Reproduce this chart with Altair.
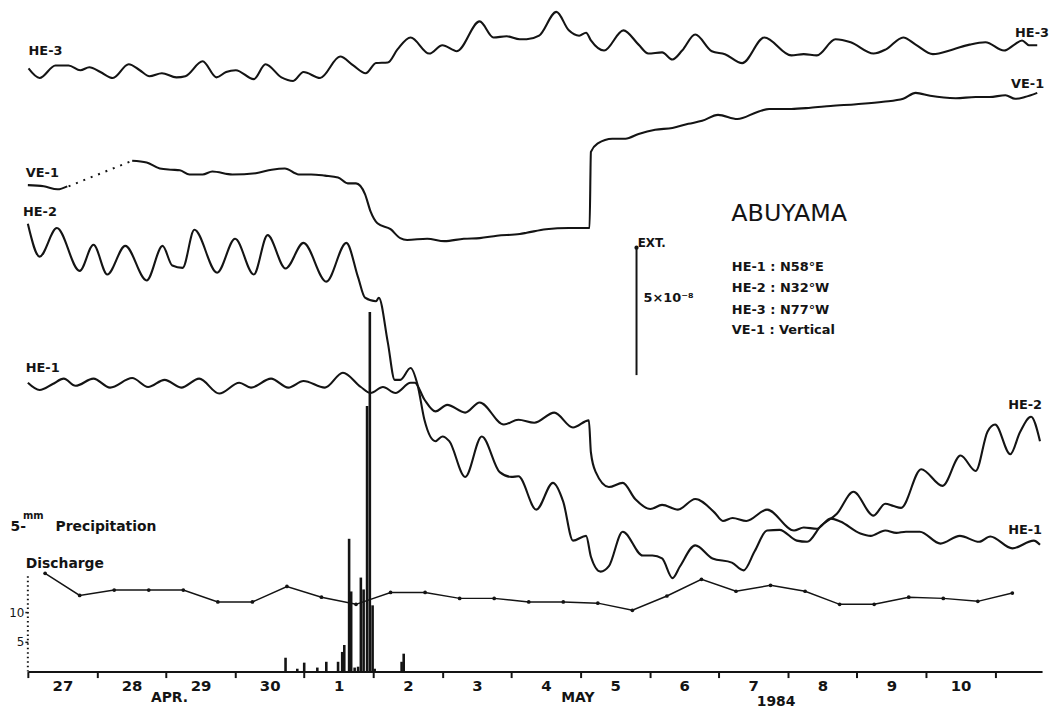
import json
import altair as alt
import pandas as pd

INK = "#141414"
FONT = "DejaVu Sans"

# ---- axis ranges (days since 27 Apr 1984 00:00; vertical in discharge units) ----
X_MAX = 14.68
Y_MAX = 111.0
DAY_LABELS = ["27", "28", "29", "30", "1", "2", "3", "4", "5", "6", "7", "8", "9", "10"]

# ---- strain records (relative) ----
HE3_T = [0.01, 0.17, 0.40, 0.59, 0.76, 0.89, 1.05, 1.23, 1.46, 1.62, 1.76, 1.94, 2.15, 2.28, 2.53, 2.73,
         2.87, 3.01, 3.27, 3.44, 3.67, 3.84, 3.99, 4.23, 4.52, 4.71, 4.89, 5.04, 5.21, 5.35, 5.54, 5.81,
         6.00, 6.21, 6.54, 6.74, 6.93, 7.12, 7.22, 7.40, 7.65, 7.83, 7.98, 8.08, 8.15, 8.34, 8.62, 8.84,
         8.98, 9.18, 9.33, 9.47, 9.66, 9.90, 10.09, 10.34, 10.66, 11.05, 11.23, 11.42, 11.69, 11.91,
         12.24, 12.42, 12.67, 12.85, 13.10, 13.39, 13.63, 13.86, 14.13, 14.28, 14.39, 14.49, 14.61]
HE3_V = [101.3, 99.7, 101.8, 101.8, 101.0, 101.5, 100.7, 99.7, 102.0, 101.0, 100.0, 100.5, 99.8, 100.0,
         102.5, 99.8, 100.7, 101.0, 99.5, 102.0, 99.8, 99.2, 100.7, 99.7, 103.3, 101.8, 100.5, 102.2,
         102.3, 104.5, 106.5, 103.8, 105.2, 104.2, 109.2, 106.5, 106.7, 106.2, 106.2, 106.8, 110.8, 107.7,
         106.8, 107.3, 106.0, 104.3, 107.7, 105.3, 103.8, 104.0, 102.8, 104.3, 107.0, 104.2, 103.7, 102.2,
         106.5, 103.5, 103.7, 103.5, 106.2, 105.7, 103.8, 104.5, 106.5, 105.3, 103.7, 104.5, 105.3, 105.7,
         104.3, 105.3, 106.0, 105.2, 105.2]

VE1_START_T = [0.00, 0.23, 0.43, 0.57]
VE1_START_V = [81.7, 81.5, 81.0, 81.5]
VE1_GAP_T = [0.59, 1.51]
VE1_GAP_V = [81.5, 85.8]
VE1_T = [1.51, 1.72, 1.91, 2.08, 2.20, 2.34, 2.53, 2.67, 2.96, 3.30, 3.53, 3.72, 3.92, 4.10, 4.30, 4.49,
         4.63, 4.75, 4.88, 4.96, 5.06, 5.25, 5.39, 5.49, 5.78, 6.03, 6.31, 6.54, 6.79, 7.12, 7.22, 7.50,
         7.83, 8.11, 8.13, 8.15, 8.25, 8.46, 8.65, 8.84, 9.08, 9.33, 9.56, 9.76, 9.99, 10.27, 10.56,
         10.73, 11.05, 11.33, 11.62, 11.99, 12.38, 12.67, 12.85, 13.06, 13.43, 13.72, 13.92, 14.15,
         14.29, 14.43, 14.61]
VE1_V = [85.8, 85.5, 84.5, 84.3, 84.2, 83.5, 83.5, 84.0, 83.5, 83.7, 84.3, 84.5, 83.5, 83.5, 83.3, 83.0,
         82.0, 82.0, 80.2, 77.3, 75.3, 74.3, 72.8, 72.5, 72.7, 72.3, 72.7, 72.8, 73.2, 73.5, 73.7, 74.3,
         74.5, 74.5, 74.5, 87.3, 88.7, 89.5, 89.5, 90.3, 91.0, 91.3, 92.0, 92.5, 93.5, 92.8, 94.0, 94.5,
         94.5, 94.7, 95.0, 95.3, 95.7, 96.2, 97.2, 96.7, 96.3, 96.5, 96.5, 96.8, 96.2, 96.5, 97.2]

HE2_T = [0.00, 0.17, 0.42, 0.75, 0.95, 1.15, 1.41, 1.72, 1.95, 2.09, 2.24, 2.41, 2.74, 3.00, 3.27, 3.47,
         3.73, 3.99, 4.32, 4.61, 4.78, 4.88, 5.04, 5.08, 5.21, 5.31, 5.39, 5.54, 5.64, 5.74, 5.90, 6.00,
         6.10, 6.33, 6.57, 6.83, 7.00, 7.10, 7.36, 7.60, 7.75, 7.89, 8.08, 8.15, 8.29, 8.41, 8.61, 8.90,
         9.04, 9.18, 9.33, 9.44, 9.66, 9.91, 10.19, 10.36, 10.52, 10.70, 10.88, 11.13, 11.28, 11.48,
         11.71, 11.95, 12.24, 12.41, 12.53, 12.64, 12.93, 13.24, 13.50, 13.72, 13.89, 14.00, 14.22,
         14.36, 14.52, 14.65]
HE2_V = [75.2, 69.7, 74.5, 67.3, 71.7, 66.7, 71.5, 65.7, 71.5, 68.2, 67.8, 74.2, 67.0, 72.7, 66.7, 73.3,
         67.7, 72.0, 65.5, 72.0, 66.2, 62.8, 62.2, 62.8, 55.3, 49.0, 49.0, 51.0, 48.2, 42.3, 38.7, 39.5,
         38.7, 32.7, 39.5, 33.5, 32.7, 32.8, 27.2, 31.7, 28.5, 22.0, 22.8, 19.3, 16.8, 17.7, 23.5, 19.5,
         19.5, 19.0, 15.7, 17.7, 21.2, 19.0, 18.3, 17.0, 20.2, 23.7, 23.8, 22.0, 21.8, 24.5, 26.5, 30.2,
         26.2, 28.2, 27.8, 27.5, 34.0, 31.2, 36.3, 33.7, 40.3, 41.5, 36.5, 40.2, 42.8, 38.7]

HE1_T = [0.00, 0.17, 0.36, 0.52, 0.69, 0.95, 1.19, 1.51, 1.74, 1.98, 2.22, 2.48, 2.77, 3.06, 3.23, 3.52,
         3.77, 3.99, 4.30, 4.56, 4.82, 4.96, 5.14, 5.32, 5.54, 5.60, 5.74, 5.90, 6.07, 6.33, 6.54, 6.89,
         7.10, 7.33, 7.62, 7.89, 8.12, 8.15, 8.22, 8.41, 8.61, 8.79, 9.01, 9.18, 9.41, 9.66, 9.94, 10.06,
         10.20, 10.40, 10.70, 11.09, 11.23, 11.42, 11.62, 11.76, 12.05, 12.20, 12.41, 12.57, 12.71,
         12.91, 13.21, 13.49, 13.77, 13.93, 14.25, 14.56, 14.65]
HE1_V = [48.5, 47.3, 48.3, 49.2, 48.0, 49.2, 47.7, 49.3, 47.8, 49.0, 47.7, 49.2, 46.7, 48.5, 47.7, 49.2,
         47.7, 48.8, 47.7, 50.2, 47.8, 46.8, 47.8, 46.8, 48.5, 48.5, 45.7, 43.7, 44.8, 43.5, 45.2, 41.5,
         42.3, 41.8, 43.5, 41.0, 42.2, 36.8, 33.5, 31.0, 31.7, 29.0, 27.3, 28.0, 27.2, 29.0, 26.7, 25.3,
         25.8, 25.3, 27.2, 23.7, 24.2, 24.0, 25.7, 25.2, 23.2, 22.8, 23.7, 23.3, 23.5, 23.5, 21.5, 22.8,
         21.8, 22.7, 20.7, 22.0, 21.3]

# ---- discharge (twice daily) ----
DIS_T = [0.25, 0.75, 1.25, 1.75, 2.25, 2.75, 3.25, 3.75, 4.25, 4.75, 5.25, 5.75, 6.25, 6.75, 7.25,
         7.75, 8.25, 8.75, 9.25, 9.75, 10.25, 10.75, 11.25, 11.75, 12.25, 12.75, 13.25, 13.75, 14.25]
DIS_V = [16.5, 12.8, 13.7, 13.7, 13.7, 11.7, 11.7, 14.3, 12.5, 11.3, 13.3, 13.3, 12.3, 12.3, 11.7,
         11.7, 11.5, 10.3, 12.7, 15.5, 13.5, 14.5, 13.5, 11.3, 11.3, 12.5, 12.3, 11.8, 13.2]

# ---- hourly precipitation (mm) ----
PRE_T = [3.73, 3.90, 4.00, 4.19, 4.32, 4.49, 4.55, 4.58, 4.65, 4.68, 4.73, 4.78, 4.82, 4.86, 4.91,
         4.95, 4.99, 5.02, 5.41, 5.44]
PRE_MM = [0.48, 0.1, 0.31, 0.14, 0.34, 0.34, 0.68, 0.92, 4.59, 2.77, 0.14, 0.17, 3.25, 2.84, 9.18,
          12.43, 2.29, 0.1, 0.34, 0.62]
MM_PER_5 = 24.3  # 5 mm of precipitation spans 24.3 discharge-axis units in the figure

XS = alt.Scale(domain=[0, X_MAX], nice=False, zero=False)
YS = alt.Scale(domain=[0, Y_MAX], nice=False, zero=False)


def frame(name, ts, vs):
    return pd.DataFrame({"series": name, "t": ts, "v": vs})


curves = pd.concat([
    frame("HE-3", HE3_T, HE3_V),
    frame("VE-1a", VE1_START_T, VE1_START_V),
    frame("VE-1", VE1_T, VE1_V),
    frame("HE-2", HE2_T, HE2_V),
    frame("HE-1", HE1_T, HE1_V),
], ignore_index=True)
gap = frame("VE-1 gap", VE1_GAP_T, VE1_GAP_V)
dis = pd.DataFrame({"t": DIS_T, "v": DIS_V})
pre = pd.DataFrame({"t": PRE_T, "mm": PRE_MM})
one = pd.DataFrame({"k": [0]})

TICK_AXIS = alt.Axis(values=list(range(0, 15)), labels=False, tickSize=6, tickWidth=2,
                     tickColor=INK, domainColor=INK, domainWidth=2, grid=False,
                     orient="bottom", title=None)
LABEL_AXIS = alt.Axis(values=[i + 0.5 for i in range(14)],
                      labelExpr=json.dumps(DAY_LABELS) + "[floor(datum.value)]",
                      ticks=False, domain=False, labelFontSize=15, labelFontWeight="bold",
                      labelPadding=7, labelColor=INK, labelFont=FONT, labelFlush=False,
                      labelOverlap=False, grid=False, orient="bottom", title=None)
Y_AXIS = alt.Axis(values=[5, 10], domain=False, tickSize=3, tickWidth=1.5, tickColor=INK,
                  labelFontSize=12, labelPadding=1, labelColor=INK,
                  labelFont=FONT, grid=False, title=None, orient="left")

curve_layer = alt.Chart(curves).mark_line(color=INK, strokeWidth=2.1, interpolate="monotone").encode(
    x=alt.X("t:Q", scale=XS, axis=TICK_AXIS),
    y=alt.Y("v:Q", scale=YS, axis=None),
    detail="series:N",
)
gap_layer = alt.Chart(gap).mark_line(color=INK, strokeWidth=2, strokeDash=[2, 6]).encode(
    x=alt.X("t:Q", scale=XS, axis=None),
    y=alt.Y("v:Q", scale=YS, axis=None),
)
dis_line = alt.Chart(dis).mark_line(color=INK, strokeWidth=1.5).encode(
    x=alt.X("t:Q", scale=XS, axis=LABEL_AXIS),
    y=alt.Y("v:Q", scale=YS, axis=Y_AXIS),
)
dis_pts = alt.Chart(dis).mark_circle(color=INK, size=14, opacity=1).encode(
    x=alt.X("t:Q", scale=XS, axis=None),
    y=alt.Y("v:Q", scale=YS, axis=None),
)
pre_bars = alt.Chart(pre).transform_calculate(
    h=f"datum.mm * {MM_PER_5} / 5", base="0"
).mark_rule(color=INK, strokeWidth=2.6).encode(
    x=alt.X("t:Q", scale=XS, axis=None),
    y=alt.Y("base:Q", scale=YS, axis=None),
    y2="h:Q",
)
dis_axis_line = alt.Chart(one).mark_rule(color=INK, strokeWidth=2, strokeDash=[1.5, 3]).encode(
    x=alt.X(datum=0, scale=XS, axis=None),
    y=alt.Y(datum=0, scale=YS, axis=None),
    y2=alt.Y2(datum=16.5),
)
scale_bar = alt.Chart(one).mark_rule(color=INK, strokeWidth=2).encode(
    x=alt.X(datum=8.81, scale=XS, axis=None),
    y=alt.Y(datum=49.8, scale=YS, axis=None),
    y2=alt.Y2(datum=71.2),
)
scale_dot = alt.Chart(one).mark_circle(color=INK, size=18, opacity=1).encode(
    x=alt.X(datum=8.81, scale=XS, axis=None),
    y=alt.Y(datum=71.2, scale=YS, axis=None),
)


def label(text, t, v, size=13, align="left", weight="bold", baseline="middle"):
    return alt.Chart(one).mark_text(
        text=text, fontSize=size, align=align, baseline=baseline, fontWeight=weight,
        font=FONT, color=INK,
    ).encode(
        x=alt.X(datum=t, scale=XS, axis=None),
        y=alt.Y(datum=v, scale=YS, axis=None),
    )


texts = [
    label("HE-3", 0.01, 104.3),
    label("VE-1", -0.03, 83.7),
    label("HE-2", -0.07, 77.2),
    label("HE-1", -0.03, 51.0),
    label("HE-3", 14.78, 107.3, align="right"),
    label("VE-1", 14.71, 98.7, align="right"),
    label("HE-2", 14.68, 44.8, align="right"),
    label("HE-1", 14.68, 23.8, align="right"),
    label("ABUYAMA", 11.02, 76.8, size=24, align="center", weight="normal"),
    label("EXT.", 9.03, 72.0, size=12, align="center"),
    label("5×10⁻⁸", 8.91, 62.7, size=13),
    label("HE-1 : N58°E", 10.19, 68.0, size=13),
    label("HE-2 : N32°W", 10.19, 64.4, size=13),
    label("HE-3 : N77°W", 10.19, 60.8, size=13),
    label("VE-1 : Vertical", 10.19, 57.3, size=13),
    label("5-", -0.25, 24.3, size=14),
    label("mm", -0.07, 26.2, size=10),
    label("Precipitation", 0.40, 24.3, size=14),
    label("Discharge", -0.03, 18.0, size=14),
    label("APR.", 2.05, -4.4, size=14, align="center"),
    label("MAY", 7.96, -4.4, size=14, align="center"),
    label("1984", 10.83, -5.1, size=14, align="center"),
]

chart = alt.layer(
    curve_layer, gap_layer, pre_bars, dis_line, dis_pts, dis_axis_line, scale_bar, scale_dot, *texts
).resolve_axis(x="independent", y="independent").properties(
    width=1022, height=666,
    autosize=alt.AutoSizeParams(type="none"),
    padding={"left": 20, "right": 9, "top": 0, "bottom": 40},
    background="white",
).configure_view(stroke=None)

chart.save("out.html", embed_options={"renderer": "svg", "actions": False})
